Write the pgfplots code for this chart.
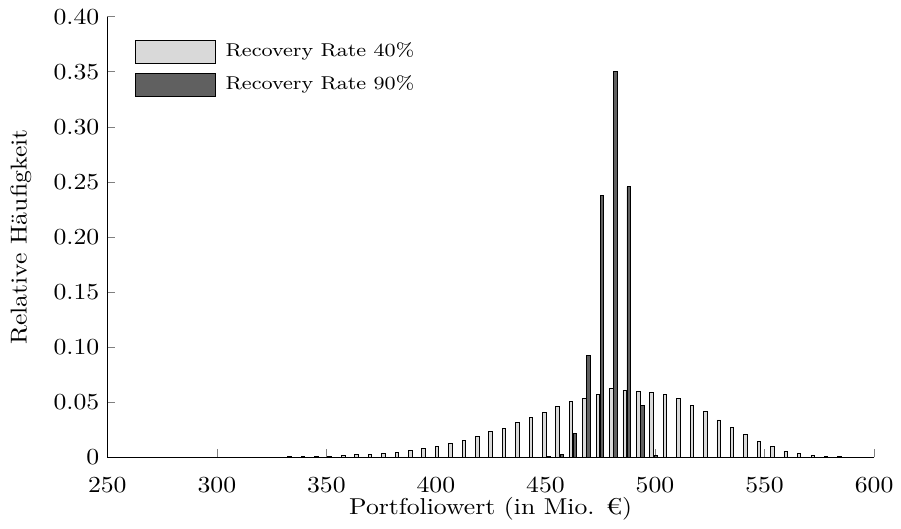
\documentclass[border=0pt]{standalone}
\usepackage{fontspec}
\setmainfont{Latin Modern Roman}[FakeStretch=1.12]
\usepackage{pgfplots}
\pgfplotsset{compat=1.18}
\usepackage{pgfplotstable}

\definecolor{rrlight}{RGB}{217,217,217}
\definecolor{rrdark}{RGB}{96,96,96}

% bin centres, relative frequencies for recovery rate 40% and 90%
\pgfplotstableread{
x     h40    h90
285.1 0.0001 0
291.2 0.0001 0
297.3 0.0001 0
303.5 0.0002 0
309.6 0.0002 0
315.7 0.0002 0
321.8 0.0003 0
327.9 0.0003 0
334.1 0.0004 0
340.2 0.0005 0
346.3 0.0008 0
352.4 0.0012 0
358.6 0.0015 0
364.7 0.0024 0
370.8 0.0030 0
376.9 0.0039 0
383.1 0.0048 0
389.2 0.0066 0
395.3 0.0084 0
401.4 0.0099 0
407.5 0.0129 0
413.7 0.0153 0
419.8 0.0189 0
425.9 0.0234 0
432.0 0.0264 0
438.2 0.0315 0
444.3 0.0366 0
450.4 0.0405 0.0005
456.5 0.0460 0.0027
462.6 0.0507 0.0219
468.8 0.0537 0.0922
474.9 0.0572 0.2377
481.0 0.0621 0.3503
487.1 0.0609 0.2455
493.3 0.0600 0.0471
499.4 0.0588 0.0015
505.5 0.0570 0
511.6 0.0535 0
517.8 0.0469 0
523.9 0.0414 0
530.0 0.0339 0
536.1 0.0273 0
542.2 0.0210 0
548.4 0.0147 0
554.5 0.0099 0
560.6 0.0057 0
566.7 0.0035 0
572.9 0.0019 0
579.0 0.0010 0
585.1 0.0006 0
}\histdata

\begin{document}
\fontsize{10.5}{12.6}\selectfont
\begin{tikzpicture}
\begin{axis}[
  scale only axis,
  width=350.9pt, height=201.7pt,
  xmin=250, xmax=600, ymin=0, ymax=0.4,
  axis x line*=bottom, axis y line*=left,
  tick align=inside, major tick length=3.6pt,
  xtick={250,300,350,400,450,500,550,600},
  xticklabels={250,300,350,400,450,500,550,600},
  ytick={0,0.05,0.1,0.15,0.2,0.25,0.3,0.35,0.4},
  yticklabels={0,0.05,0.10,0.15,0.20,0.25,0.30,0.35,0.40},
  xticklabel style={yshift=-5.5pt},
  xlabel={Portfoliowert (in Mio. €)},
  ylabel={Relative Häufigkeit},
  xlabel style={yshift=5.6pt},
  ylabel style={yshift=3pt},
  rrbar/.style={ybar, bar width=1.6, draw=black, line width=0.4pt,
    legend image code/.code={\draw[##1] (0pt,-5.4pt) rectangle (36.4pt,5.2pt);}},
  legend style={draw=none, fill=none, at={(0,1)}, anchor=north west,
    xshift=12.7pt, yshift=-10.3pt, inner sep=0pt, row sep=4.1pt,
    column sep=4.5pt, nodes={inner sep=0pt},
    font=\fontsize{8.5}{10}\selectfont},
  legend cell align=left,
]
\addplot[rrbar, bar shift=-0.92, fill=rrlight] table[x=x, y=h40] {\histdata};
\addlegendentry{Recovery Rate 40\%}
\addplot[rrbar, bar shift=0.92, fill=rrdark] table[x=x, y=h90] {\histdata};
\addlegendentry{Recovery Rate 90\%}
\end{axis}
\path ([shift={(-49.1pt,-32.5pt)}]current axis.south west)
  rectangle ([shift={(9.5pt,7.6pt)}]current axis.north east);
\end{tikzpicture}
\end{document}
